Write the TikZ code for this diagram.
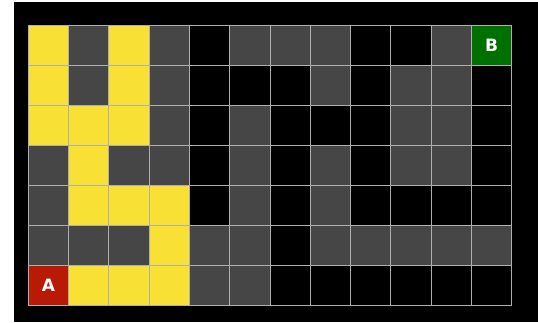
\documentclass[tikz,border=0pt]{standalone}
\usepackage{fontspec}
\setsansfont{DejaVu Sans}
\usepackage{xcolor}
\usetikzlibrary{positioning}
\definecolor{pathcolor}{RGB}{248,224,52}
\definecolor{wallcolor}{RGB}{70,70,70}
\definecolor{startcolor}{RGB}{184,26,5}
\definecolor{goalcolor}{RGB}{0,112,0}
\definecolor{gridcolor}{RGB}{175,175,175}
\tikzset{
  maze cell/.style={
    rectangle,
    draw=gridcolor,
    line width=0.9pt,
    minimum width=40.28pt,
    minimum height=40pt,
    inner sep=0pt,
    outer sep=0pt
  },
  maze P/.style={maze cell, fill=pathcolor},
  maze W/.style={maze cell, fill=wallcolor},
  maze F/.style={maze cell, fill=black},
  maze A/.style={maze cell, fill=startcolor},
  maze B/.style={maze cell, fill=goalcolor},
  tag/.style={
    text=white,
    font=\sffamily\bfseries\fontsize{17}{17}\selectfont
  }
}

\begin{document}
\begin{tikzpicture}[x=1pt, y=-1pt]
  \useasboundingbox (0,0) rectangle (538,322);
  \fill[white] (0,0) rectangle (538,322);
  \fill[black] (14,2) rectangle (538,322);

  % maze rows, top to bottom
  \foreach \row [count=\r from 0] in {
      {P,W,P,W,F,W,W,W,F,F,W,B},
      {P,W,P,W,F,F,F,W,F,W,W,F},
      {P,P,P,W,F,W,F,F,F,W,W,F},
      {W,P,W,W,F,W,F,W,F,W,W,F},
      {W,P,P,P,F,W,F,W,F,F,F,F},
      {W,W,W,P,W,W,F,W,W,W,W,W},
      {A,P,P,P,W,W,F,F,F,F,F,F}}
  {
    \foreach \k [count=\c from 0] in \row
      \node[maze \k] (c-\r-\c) at ({28.3+40.28*(\c+0.5)}, {25+40*(\r+0.5)}) {};
  }

  \node[tag] (start) at (c-6-0) {A};
  \node[tag] (goal) at (c-0-11) {B};
\end{tikzpicture}
\end{document}
